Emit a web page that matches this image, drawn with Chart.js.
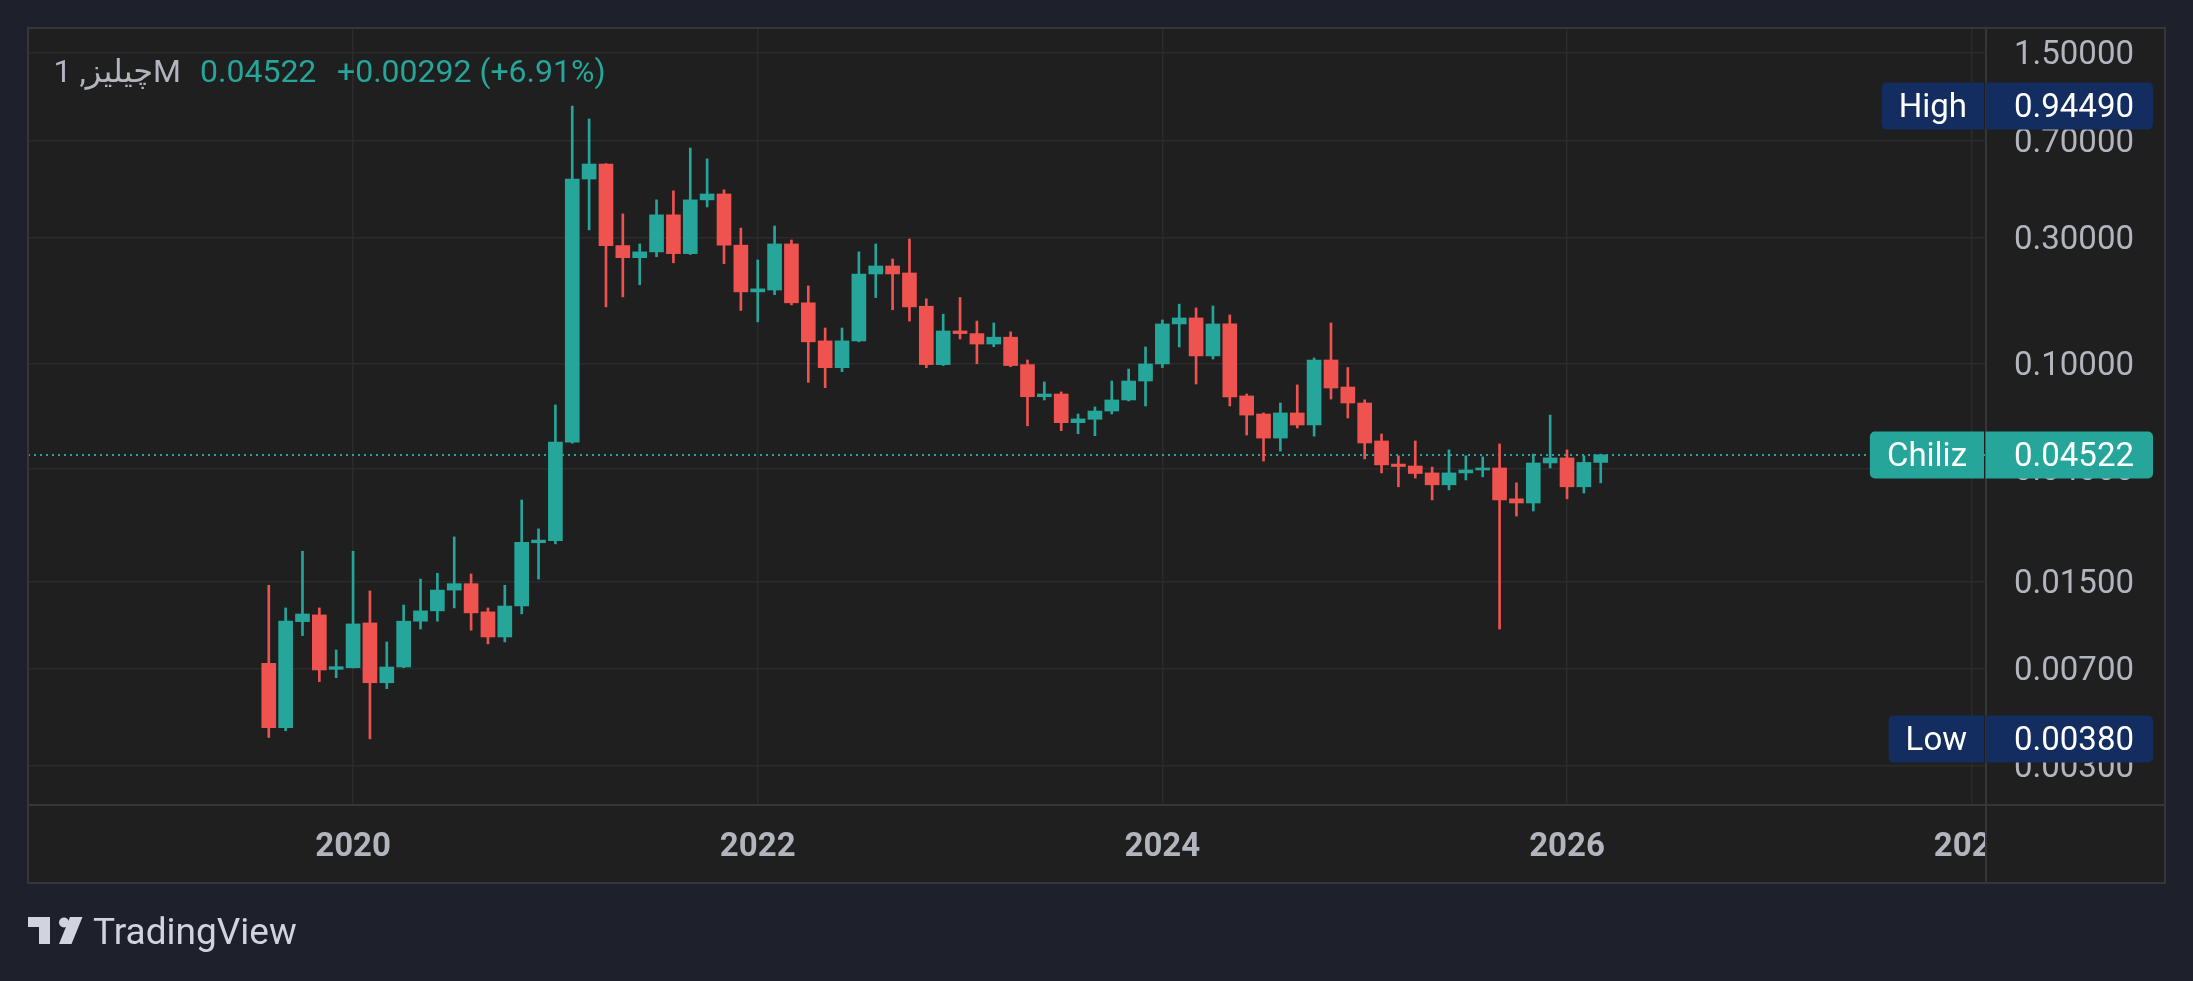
<!DOCTYPE html>
<html>
<head>
<meta charset="utf-8">
<script src="https://cdn.jsdelivr.net/npm/chart.js@4.4.1/dist/chart.umd.min.js"></script>
<style>
  html, body { margin: 0; padding: 0; background: #1e212b; overflow: hidden; }
  canvas { display: block; }
</style>
</head>
<body>
<canvas id="candles" width="2193" height="981"></canvas>
<script>
// monthly candles, Aug 2019 .. Mar 2026
const months = [
  '2019-08','2019-09','2019-10','2019-11','2019-12',
  '2020-01','2020-02','2020-03','2020-04','2020-05','2020-06','2020-07','2020-08','2020-09','2020-10','2020-11','2020-12',
  '2021-01','2021-02','2021-03','2021-04','2021-05','2021-06','2021-07','2021-08','2021-09','2021-10','2021-11','2021-12',
  '2022-01','2022-02','2022-03','2022-04','2022-05','2022-06','2022-07','2022-08','2022-09','2022-10','2022-11','2022-12',
  '2023-01','2023-02','2023-03','2023-04','2023-05','2023-06','2023-07','2023-08','2023-09','2023-10','2023-11','2023-12',
  '2024-01','2024-02','2024-03','2024-04','2024-05','2024-06','2024-07','2024-08','2024-09','2024-10','2024-11','2024-12',
  '2025-01','2025-02','2025-03','2025-04','2025-05','2025-06','2025-07','2025-08','2025-09','2025-10','2025-11','2025-12',
  '2026-01','2026-02','2026-03'
];
const opens = [
  0.00735, 0.00419, 0.01056, 0.0112, 0.00697,
  0.00707, 0.01044, 0.0062, 0.00711, 0.0106, 0.0116, 0.0139, 0.0147, 0.0115, 0.00924, 0.0121, 0.0210,
  0.0214, 0.0505, 0.500, 0.570, 0.280, 0.252, 0.265, 0.366, 0.261, 0.417, 0.439, 0.281,
  0.187, 0.190, 0.284, 0.170, 0.122, 0.0966, 0.122, 0.2186, 0.2344, 0.2205, 0.165, 0.0992,
  0.133, 0.130, 0.1187, 0.126, 0.0992, 0.075, 0.0768, 0.0598, 0.0616, 0.0662, 0.0729, 0.086,
  0.0998, 0.1414, 0.149, 0.107, 0.1414, 0.0755, 0.0645, 0.0523, 0.0651, 0.0586, 0.1033, 0.0816,
  0.071, 0.0510, 0.0417, 0.041, 0.0386, 0.0348, 0.0386, 0.0396, 0.0403, 0.0308, 0.0297, 0.0421,
  0.044, 0.0342, 0.0423
];
const highs = [
  0.0145, 0.0119, 0.0195, 0.0119, 0.00825,
  0.0195, 0.0138, 0.00885, 0.0122, 0.0153, 0.0161, 0.0221, 0.0160, 0.0119, 0.0145, 0.0305, 0.0237,
  0.0698, 0.9449, 0.844, 0.572, 0.369, 0.284, 0.417, 0.451, 0.655, 0.596, 0.455, 0.326,
  0.247, 0.332, 0.294, 0.197, 0.1365, 0.1365, 0.265, 0.284, 0.249, 0.2965, 0.176, 0.154,
  0.178, 0.145, 0.1426, 0.132, 0.1033, 0.0853, 0.0782, 0.0645, 0.0686, 0.086, 0.0955, 0.1157,
  0.1464, 0.168, 0.1626, 0.1654, 0.153, 0.0768, 0.0651, 0.071, 0.0831, 0.1051, 0.1426, 0.0967,
  0.073, 0.0542, 0.0448, 0.051, 0.0406, 0.0472, 0.0448, 0.0444, 0.0497, 0.0354, 0.0455, 0.0639,
  0.0472, 0.0448, 0.0455
];
const lows = [
  0.00385, 0.00408, 0.00935, 0.00626, 0.00648,
  0.00705, 0.0038, 0.00589, 0.00707, 0.0099, 0.0106, 0.0119, 0.0098, 0.0087, 0.00885, 0.0113, 0.0153,
  0.0208, 0.0500, 0.321, 0.164, 0.179, 0.199, 0.254, 0.241, 0.259, 0.392, 0.239, 0.159,
  0.144, 0.1825, 0.167, 0.085, 0.0811, 0.0933, 0.121, 0.178, 0.160, 0.145, 0.0966, 0.0984,
  0.124, 0.100, 0.116, 0.0974, 0.0582, 0.0729, 0.0558, 0.0543, 0.0534, 0.0645, 0.0723, 0.0692,
  0.0967, 0.1157, 0.0838, 0.1042, 0.0692, 0.0537, 0.0428, 0.0467, 0.0571, 0.0532, 0.0735, 0.0623,
  0.0436, 0.0386, 0.0342, 0.0369, 0.0305, 0.0333, 0.0363, 0.0373, 0.0099, 0.0265, 0.0277, 0.0403,
  0.0308, 0.0324, 0.0354
];
const closes = [
  0.00419, 0.0106, 0.01129, 0.00693, 0.00713,
  0.01035, 0.0062, 0.00711, 0.0106, 0.0116, 0.0139, 0.0147, 0.0114, 0.00924, 0.0121, 0.0211, 0.0215,
  0.0505, 0.500, 0.570, 0.280, 0.252, 0.265, 0.366, 0.261, 0.417, 0.439, 0.281, 0.187,
  0.192, 0.284, 0.170, 0.121, 0.0966, 0.122, 0.2186, 0.2344, 0.2186, 0.164, 0.0992, 0.133,
  0.130, 0.1187, 0.126, 0.0984, 0.075, 0.0768, 0.0598, 0.0618, 0.0662, 0.0729, 0.086, 0.0998,
  0.1414, 0.149, 0.107, 0.1414, 0.0748, 0.0639, 0.0523, 0.0651, 0.0586, 0.1033, 0.0809, 0.071,
  0.0501, 0.0414, 0.0408, 0.0384, 0.0348, 0.0386, 0.0396, 0.0403, 0.0305, 0.0297, 0.0421, 0.044,
  0.0342, 0.0423, 0.04522
];

const priceTicks = [1.5, 0.7, 0.3, 0.1, 0.04, 0.015, 0.007, 0.003];
const yearLabels = ['2020', '2022', '2024', '2026', '2028'];

const UP = '#26a69a';
const DOWN = '#ef5350';
const PLOT_BG = '#1f1f1f';
const PAGE_BG = '#1e212b';
const GRID = '#2b2b2b';
const EDGE = '#363636';
const TEXT = '#b2b5be';

// month offset from Jan 2020
function monthIndex(m) {
  const [y, mo] = m.split('-').map(Number);
  return (y - 2020) * 12 + (mo - 1);
}

const colors = closes.map((c, i) => c >= opens[i] ? UP : DOWN);
const bodies = months.map((m, i) => ({ x: monthIndex(m), y: [Math.min(opens[i], closes[i]), Math.max(opens[i], closes[i])] }));
const wicks = months.map((m, i) => ({ x: monthIndex(m), y: [lows[i], highs[i]] }));

const lastClose = closes[closes.length - 1];
const hiVal = Math.max(...highs);
const loVal = Math.min(...lows);

function tag(ctx, yScale, value, label, fill) {
  const y = Math.round(yScale.getPixelForValue(value));
  const split = yScale.left - 2;
  ctx.save();
  ctx.font = '33px Roboto, "DejaVu Sans", sans-serif';
  const w = ctx.measureText(label).width;
  const left = split - w - 34;
  ctx.fillStyle = fill;
  ctx.beginPath();
  ctx.roundRect(left, y - 23.5, split - left, 47, [5, 0, 0, 5]);
  ctx.fill();
  ctx.beginPath();
  ctx.roundRect(split + 1.5, y - 23.5, 2153 - split - 1.5, 47, [0, 5, 5, 0]);
  ctx.fill();
  ctx.fillStyle = '#ffffff';
  ctx.textBaseline = 'middle';
  ctx.textAlign = 'center';
  ctx.fillText(label, (left + split) / 2, y + 3);
  ctx.textAlign = 'left';
  ctx.fillText(value.toFixed(5), yScale.left + 28, y + 3);
  ctx.restore();
}

const framePlugin = {
  id: 'frame',
  beforeDraw(chart) {
    const ctx = chart.ctx;
    ctx.save();
    ctx.fillStyle = PAGE_BG;
    ctx.fillRect(0, 0, chart.width, chart.height);
    ctx.fillStyle = PLOT_BG;
    ctx.fillRect(28, 28, 2137, 855);
    ctx.restore();
  },
  beforeDatasetsDraw(chart) {
    // dotted last-price line
    const ctx = chart.ctx;
    const a = chart.chartArea;
    const y = Math.round(chart.scales.y.getPixelForValue(lastClose));
    ctx.save();
    ctx.strokeStyle = UP;
    ctx.lineWidth = 2;
    ctx.setLineDash([2, 4]);
    ctx.beginPath();
    ctx.moveTo(a.left, y);
    ctx.lineTo(a.right, y);
    ctx.stroke();
    ctx.restore();
  },
  afterDraw(chart) {
    const ctx = chart.ctx;
    const a = chart.chartArea;
    const ys = chart.scales.y;
    ctx.save();
    // clip the year label running into the price axis corner
    ctx.fillStyle = PLOT_BG;
    ctx.fillRect(a.right, a.bottom, 2165 - a.right, 883 - a.bottom);

    ctx.strokeStyle = EDGE;
    ctx.lineWidth = 2;
    ctx.strokeRect(28, 28, 2137, 855);
    ctx.beginPath();
    ctx.moveTo(a.right, 28); ctx.lineTo(a.right, 883);
    ctx.moveTo(28, a.bottom); ctx.lineTo(2165, a.bottom);
    ctx.stroke();

    // legend line
    ctx.textBaseline = 'middle';
    ctx.direction = 'ltr';
    ctx.font = '32px Roboto, "DejaVu Sans", sans-serif';
    ctx.fillStyle = TEXT;
    ctx.textAlign = 'right';
    ctx.fillText('چیلیز, 1M', 181, 74);
    ctx.textAlign = 'left';
    ctx.fillStyle = UP;
    ctx.fillText('0.04522', 200, 74);
    ctx.fillText('+0.00292 (+6.91%)', 337, 74);

    // price axis tags
    tag(ctx, ys, hiVal, 'High', '#132d61');
    tag(ctx, ys, lastClose, 'Chiliz', UP);
    tag(ctx, ys, loVal, 'Low', '#132d61');

    // TradingView mark
    ctx.fillStyle = '#d1d4dc';
    ctx.fillRect(28, 917, 22, 10);
    ctx.fillRect(39, 917, 11, 27);
    ctx.beginPath();
    ctx.arc(64, 922.5, 5, 0, Math.PI * 2);
    ctx.fill();
    ctx.beginPath();
    ctx.moveTo(70, 917); ctx.lineTo(82.5, 917); ctx.lineTo(71.5, 944); ctx.lineTo(59, 944);
    ctx.closePath();
    ctx.fill();
    ctx.font = '37px Roboto, sans-serif';
    ctx.textBaseline = 'alphabetic';
    ctx.fillText('TradingView', 93, 944);
    ctx.restore();
  }
};

new Chart(document.getElementById('candles'), {
  type: 'bar',
  data: {
    datasets: [
      {
        label: 'body',
        data: bodies,
        backgroundColor: colors,
        borderWidth: 0,
        barThickness: 14,
        minBarLength: 2,
        grouped: false
      },
      {
        label: 'wick',
        data: wicks,
        backgroundColor: colors,
        borderWidth: 0,
        barThickness: 2,
        grouped: false
      }
    ]
  },
  options: {
    responsive: false,
    animation: false,
    devicePixelRatio: 1,
    layout: { padding: { left: 28, top: 28, right: 28, bottom: 98 } },
    plugins: { legend: { display: false }, tooltip: { enabled: false } },
    scales: {
      x: {
        type: 'linear',
        min: -19.28,
        max: 96.85,
        offset: false,
        afterBuildTicks(scale) {
          scale.ticks = yearLabels.map(y => ({ value: (Number(y) - 2020) * 12 }));
        },
        afterFit(scale) {
          scale.height = 78;
          scale.paddingLeft = 0; scale.paddingRight = 0;
        },
        grid: { color: GRID, lineWidth: 1.5, drawTicks: false, offset: false },
        border: { display: false },
        ticks: {
          padding: 23,
          maxRotation: 0,
          autoSkip: false,
          color: TEXT,
          font: { family: 'Roboto', size: 33, weight: 'bold' },
          callback: v => String(2020 + v / 12)
        }
      },
      y: {
        type: 'logarithmic',
        position: 'right',
        min: 0.002136,
        max: 1.865,
        beginAtZero: false,
        afterBuildTicks(scale) {
          scale.ticks = priceTicks.map(v => ({ value: v }));
        },
        afterFit(scale) {
          scale.width = 179;
          scale.paddingTop = 0; scale.paddingBottom = 0;
        },
        grid: { color: GRID, lineWidth: 1.5, drawTicks: false },
        border: { display: false },
        ticks: {
          padding: 28,
          crossAlign: 'near',
          labelOffset: 3,
          color: TEXT,
          font: { family: 'Roboto', size: 33 },
          callback: v => Number(v).toFixed(5)
        }
      }
    }
  },
  plugins: [framePlugin]
});
</script>
</body>
</html>
